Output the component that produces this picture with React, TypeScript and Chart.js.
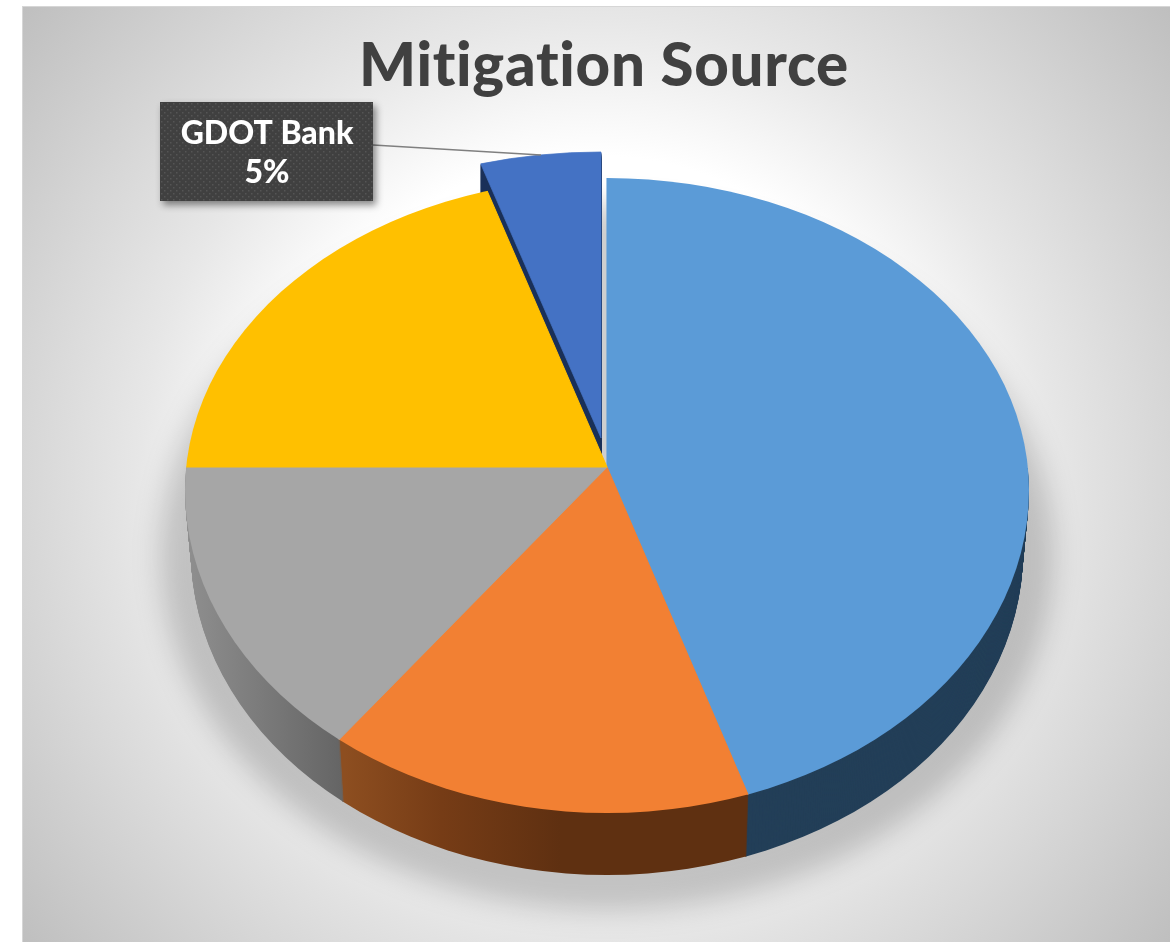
import React, { useEffect, useRef } from "react";
import { Chart, registerables } from "chart.js";

Chart.register(...registerables);

const categories = ["Source A", "Source B", "Source C", "Source D", "GDOT Bank"];
const shareValues = [44.6, 16.2, 14.2, 20.4, 4.6];
const faceColors = ["#5B9BD7", "#F28033", "#A6A6A6", "#FFC000", "#4472C4"];
const chartTitle = "Mitigation Source";
const calloutIndex = 4;

const FONT = "Lato, 'Open Sans', sans-serif";
// The disc is seen in perspective: its centre (CX, CY) sits above the centre of its outline.
const CX = 607, CY = 467, RX = 422;
const OUT_Y = 490, OUT_TOP = 312, OUT_BOTTOM = 323;
const SCALE_TOP = 289, SCALE_BOTTOM = 346, OVER = 1.2;
const DEPTH = 62, RX_BOTTOM = 416;

function arcOptions(color: any, border = 0.9) {
  return {
    backgroundColor: color, borderColor: color, borderWidth: border, borderAlign: "center",
    borderJoinStyle: "round", borderRadius: 0, borderDash: [], borderDashOffset: 0,
    spacing: 0, offset: 0, circular: true, selfJoin: false,
  };
}

function outline(ctx: CanvasRenderingContext2D, rx: number, dy: number) {
  ctx.beginPath();
  ctx.ellipse(CX, OUT_Y + dy, rx, OUT_TOP, 0, Math.PI, 2 * Math.PI);
  ctx.ellipse(CX, OUT_Y + dy, rx, OUT_BOTTOM, 0, 0, Math.PI);
  ctx.closePath();
}

function paintArc(ctx: CanvasRenderingContext2D, el: any, color: any, tx: number, ty: number, sx: number, sy: number) {
  ctx.save();
  ctx.translate(tx, ty);
  ctx.scale(sx / el.outerRadius, sy / el.outerRadius);
  ctx.translate(-el.x, -el.y);
  const saved = el.options;
  el.options = arcOptions(color);
  el.draw(ctx);
  el.options = saved;
  ctx.restore();
}

function wallColor(ctx: CanvasRenderingContext2D, i: number, el: any, sx: number) {
  const toArc = (X: number) => el.x + ((X - CX) * el.outerRadius) / sx;
  if (i === 1) {
    const g = ctx.createLinearGradient(toArc(345), 0, toArc(560), 0);
    g.addColorStop(0, "#8D4E20");
    g.addColorStop(0.45, "#763C16");
    g.addColorStop(1, "#5F3011");
    return g;
  }
  if (i === 2) {
    const g = ctx.createLinearGradient(toArc(190), 0, toArc(345), 0);
    g.addColorStop(0, "#8E8E8E");
    g.addColorStop(1, "#646464");
    return g;
  }
  return "#233F58";
}

const pie3d = {
  id: "pie3d",
  beforeDraw(chart: any) {
    const { ctx } = chart;
    ctx.save();
    const g = ctx.createRadialGradient(596, 475, 0, 596, 475, 760);
    g.addColorStop(0, "#FFFFFF");
    g.addColorStop(0.42, "#FFFFFF");
    g.addColorStop(0.6, "#E7E7E7");
    g.addColorStop(1, "#BCBCBC");
    ctx.fillStyle = "#FFFFFF";
    ctx.fillRect(0, 0, 1170, 942);
    ctx.fillStyle = "#D6D6D6";
    ctx.fillRect(22, 6, 1148, 936);
    ctx.fillStyle = g;
    ctx.fillRect(23, 7, 1147, 935);
    ctx.restore();
    ctx.letterSpacing = "0.7px";
  },
  beforeDatasetDraw(chart: any) {
    const { ctx } = chart;
    ctx.letterSpacing = "0px";
    const arcs = chart.getDatasetMeta(0).data;

    // soft floor shadow under the disc
    ctx.save();
    ctx.filter = "blur(14px)";
    ctx.fillStyle = "rgba(0,0,0,0.19)";
    ctx.beginPath();
    ctx.ellipse(CX, 555, 446, 351, 0, Math.PI, 2 * Math.PI);
    ctx.ellipse(CX, 555, 446, 355, 0, 0, Math.PI);
    ctx.fill();
    ctx.restore();

    // exploded slice: cut wall then face
    const ex = arcs[calloutIndex];
    const exX = 601, exY = 438, exSy = 286;
    for (let d = 36; d > 0; d--) paintArc(ctx, ex, "#1B3158", exX, exY + d, RX, exSy);
    paintArc(ctx, ex, faceColors[calloutIndex], exX, exY, RX, exSy);

    // rim of the disc, from the floor up
    for (let d = DEPTH; d > 0; d--) {
      const rx = RX + ((RX_BOTTOM - RX) * d) / DEPTH;
      ctx.save();
      outline(ctx, rx, d);
      ctx.clip();
      ctx.beginPath();
      ctx.rect(0, CY + d, 1170, 942);
      ctx.clip();
      const sx = rx * OVER;
      [0, 1, 2].forEach((i) => {
        paintArc(ctx, arcs[i], wallColor(ctx, i, arcs[i], sx), CX, CY + d, sx, SCALE_BOTTOM * OVER);
      });
      ctx.restore();
    }

    // top face: slices are cut by the outline; upper and lower halves have their own depth scale
    ctx.save();
    outline(ctx, RX, 0);
    ctx.clip();
    [[0, CY, SCALE_TOP], [CY, 942, SCALE_BOTTOM]].forEach(([y0, y1, sy]) => {
      ctx.save();
      ctx.beginPath();
      ctx.rect(0, y0, 1170, y1 - y0);
      ctx.clip();
      [0, 1, 2, 3].forEach((i) => paintArc(ctx, arcs[i], faceColors[i], CX, CY, RX * OVER, sy * OVER));
      ctx.restore();
    });
    ctx.restore();
    return false;
  },
  afterDatasetsDraw(chart: any) {
    const { ctx } = chart;
    const x = 160, y = 102, w = 213, h = 99;
    ctx.save();
    ctx.strokeStyle = "#7F7F7F";
    ctx.lineWidth = 1.4;
    ctx.beginPath();
    ctx.moveTo(x + w, 145);
    ctx.lineTo(541, 155);
    ctx.stroke();

    ctx.shadowColor = "rgba(0,0,0,0.45)";
    ctx.shadowBlur = 7;
    ctx.shadowOffsetX = 3;
    ctx.shadowOffsetY = 4;
    ctx.fillStyle = "#404040";
    ctx.fillRect(x, y, w, h);
    ctx.shadowColor = "transparent";

    const tile = document.createElement("canvas");
    tile.width = 6;
    tile.height = 6;
    const t = tile.getContext("2d")!;
    t.fillStyle = "#555555";
    t.fillRect(1, 1, 1.5, 1.5);
    t.fillRect(4, 4, 1.5, 1.5);
    ctx.fillStyle = ctx.createPattern(tile, "repeat")!;
    ctx.translate(x, y);
    ctx.fillRect(0, 0, w, h);
    ctx.translate(-x, -y);

    const total = shareValues.reduce((a, b) => a + b, 0);
    ctx.fillStyle = "#FFFFFF";
    ctx.textAlign = "center";
    ctx.textBaseline = "middle";
    ctx.font = `900 32px ${FONT}`;
    ctx.fillText(categories[calloutIndex], 267, 134);
    ctx.fillText(`${Math.round((shareValues[calloutIndex] / total) * 100)}%`, 267, 173);
    ctx.restore();
  },
};

export default function App() {
  const ref = useRef<HTMLCanvasElement | null>(null);
  useEffect(() => {
    const chart = new Chart(ref.current!, {
      type: "pie",
      data: {
        labels: categories,
        datasets: [{ data: shareValues, backgroundColor: faceColors, borderWidth: 0 }],
      },
      options: {
        responsive: false,
        animation: false,
        devicePixelRatio: 1,
        rotation: 0,
        layout: { padding: { left: 38, top: 31 } },
        plugins: {
          legend: { display: false },
          tooltip: { enabled: false },
          title: {
            display: true,
            text: chartTitle,
            color: "#404040",
            font: { family: FONT, size: 60, weight: "900" },
            padding: { top: 0, bottom: 0 },
          },
        },
      },
      plugins: [pie3d],
    } as any);
    return () => chart.destroy();
  }, []);
  return (
    <div style={{ position: "absolute", left: 0, top: 0, width: 1170, height: 942, overflow: "hidden" }}>
      <canvas ref={ref} width={1170} height={942} style={{ display: "block" }} />
    </div>
  );
}
